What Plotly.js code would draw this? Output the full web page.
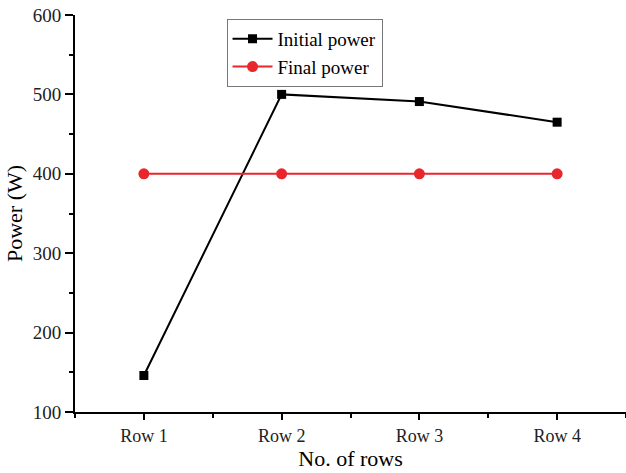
<!DOCTYPE html>
<html>
<head>
<meta charset="utf-8">
<script src="https://cdn.plot.ly/plotly-3.0.1.min.js"></script>
<style>html,body{margin:0;padding:0;background:#fff;}#chart{width:626px;height:473px;}</style>
</head>
<body>
<div id="chart"></div>
<script>
const categories = ["Row 1", "Row 2", "Row 3", "Row 4"];
const initialPower = [146, 500, 491, 465];
const finalPower = [400, 400, 400, 400];
const yTicks = [100, 200, 300, 400, 500, 600];

const xIdx = categories.map((_, i) => i);
const serif = "Liberation Serif, Times New Roman, serif";

const traces = [
  {
    x: xIdx, y: initialPower, name: "Initial power", type: "scatter", mode: "lines+markers",
    line: {color: "#000000", width: 2},
    marker: {symbol: "square", size: 9, color: "#000000"}
  },
  {
    x: xIdx, y: finalPower, name: "Final power", type: "scatter", mode: "lines+markers",
    line: {color: "#e8262c", width: 2},
    marker: {symbol: "circle", size: 11, color: "#e8262c"}
  }
];

const layout = {
  width: 626, height: 473,
  margin: {l: 75, r: 0, t: 15, b: 61},
  paper_bgcolor: "#ffffff", plot_bgcolor: "#ffffff",
  font: {family: serif, color: "#000000", size: 18},
  showlegend: true,
  legend: {
    x: 0.275, y: 0.99, xanchor: "left", yanchor: "top",
    bordercolor: "#777777", borderwidth: 1, bgcolor: "#ffffff",
    font: {family: serif, size: 19, color: "#000000"},
    tracegroupgap: 0, itemwidth: 40
  },
  xaxis: {
    range: [-0.5, 3.5], tickvals: xIdx, ticktext: categories,
    showgrid: false, zeroline: false, showline: true, linecolor: "#000000", linewidth: 2,
    ticks: "outside", ticklen: 6, tickwidth: 2, tickcolor: "#000000",
    minor: {dtick: 0.5, tick0: 0.5, ticks: "outside", ticklen: 4, tickwidth: 2, tickcolor: "#000000", showgrid: false},
    tickfont: {family: serif, size: 18, color: "#222"},
    title: {text: "No. of rows", font: {family: serif, size: 22, color: "#000"}, standoff: 4}
  },
  yaxis: {
    range: [100, 600], tickvals: yTicks,
    showgrid: false, zeroline: false, showline: true, linecolor: "#000000", linewidth: 2,
    ticks: "outside", ticklen: 8, tickwidth: 2, tickcolor: "#000000",
    minor: {dtick: 50, tick0: 50, ticks: "outside", ticklen: 4, tickwidth: 2, tickcolor: "#000000", showgrid: false},
    tickfont: {family: serif, size: 19, color: "#222"},
    title: {text: "Power (W)", font: {family: serif, size: 22, color: "#000"}, standoff: 4}
  }
};

Plotly.newPlot("chart", traces, layout, {displayModeBar: false, staticPlot: true});
</script>
</body>
</html>
